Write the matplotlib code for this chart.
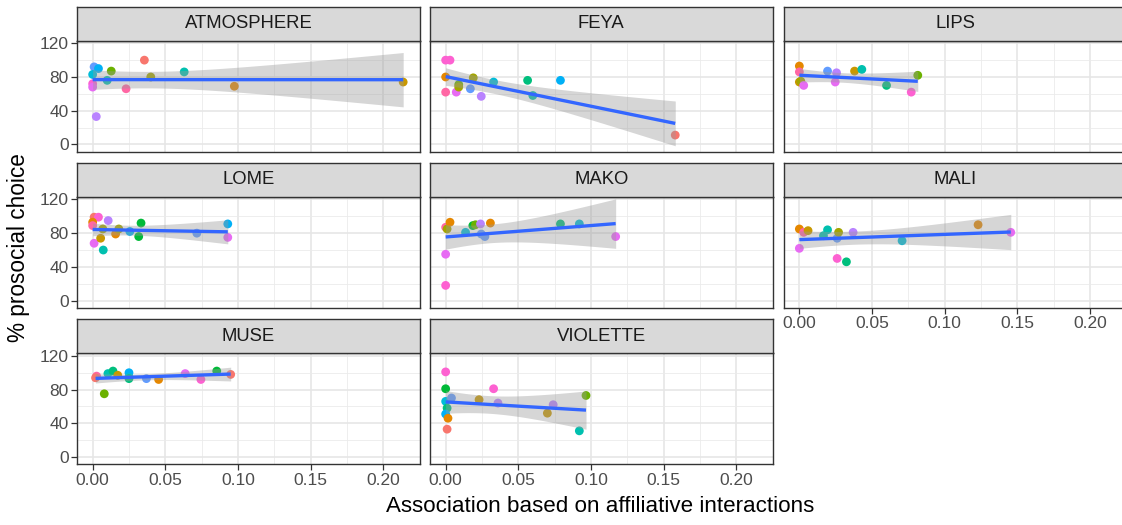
import numpy as np
import matplotlib
matplotlib.use("Agg")
import matplotlib.pyplot as plt

plt.rcParams['font.family'] = ['Liberation Sans', 'DejaVu Sans']

# ggplot hue palette, 15 partners
hue = ["#F8766D", "#E58700", "#C99800", "#A3A500", "#6BB100", "#00BA38", "#00BF7D",
       "#00C0AF", "#00BCD8", "#00B0F6", "#619CFF", "#B983FF", "#E76BF3", "#FD61D1", "#FF67A4"]

panels = ["ATMOSPHERE", "FEYA", "LIPS", "LOME", "MAKO", "MALI", "MUSE", "VIOLETTE"]

atmo_x = [0.001, 0.004, 0.000, 0.000, 0.000, 0.0025, 0.010, 0.0128, 0.023, 0.0356, 0.040, 0.063, 0.0975, 0.2137]
atmo_y = [92, 90, 83, 72, 68, 33, 76, 87, 66, 100, 80, 86, 69, 74]
atmo_c = [10, 9, 8, 13, 12, 11, 7, 4, 14, 0, 3, 7, 1, 2]

feya_x = [0.000, 0.003, 0.000, 0.000, 0.0073, 0.009, 0.009, 0.017, 0.019, 0.0245, 0.033, 0.0564, 0.060, 0.079, 0.158]
feya_y = [100, 100, 80, 62, 62, 71, 68, 66, 79, 57, 74, 76, 58, 76, 11]
feya_c = [13, 13, 1, 14, 12, 4, 3, 10, 3, 11, 8, 6, 7, 9, 0]

lips_x = [0.000, 0.000, 0.000, 0.001, 0.003, 0.0194, 0.0256, 0.0247, 0.038, 0.043, 0.060, 0.077, 0.0815]
lips_y = [93, 86, 74, 75, 70, 87, 85, 74, 87, 89, 70, 62, 82]
lips_c = [1, 14, 2, 3, 12, 10, 11, 12, 2, 7, 6, 13, 4]

lome_x = [0.001, 0.004, 0.000, 0.000, 0.001, 0.0055, 0.0073, 0.007, 0.0107, 0.0158, 0.018, 0.0256,
          0.0333, 0.0317, 0.0717, 0.093, 0.093]
lome_y = [99, 99, 93, 89, 68, 74, 60, 85, 95, 79, 85, 82, 92, 76, 80, 91, 75]
lome_c = [0, 13, 1, 14, 12, 2, 7, 3, 11, 1, 3, 9, 5, 5, 10, 9, 12]

mako_x = [0.000, 0.001, 0.003, 0.000, 0.000, 0.0137, 0.0187, 0.0205, 0.024, 0.0245, 0.027, 0.0308,
          0.079, 0.092, 0.117]
mako_y = [87, 85, 93, 55, 18, 81, 89, 90, 91, 79, 76, 92, 91, 91, 76]
mako_c = [14, 3, 1, 12, 13, 8, 5, 4, 11, 10, 10, 1, 6, 8, 12]

mali_x = [0.000, 0.003, 0.006, 0.000, 0.0166, 0.0194, 0.026, 0.027, 0.026, 0.0324, 0.037, 0.0707,
          0.123, 0.1455]
mali_y = [85, 81, 83, 62, 77, 84, 74, 81, 50, 46, 81, 71, 90, 81]
mali_c = [1, 14, 2, 12, 7, 7, 10, 3, 13, 6, 11, 8, 1, 12]

muse_x = [0.0027, 0.002, 0.008, 0.0105, 0.014, 0.0173, 0.025, 0.025, 0.025, 0.037, 0.0454, 0.0637,
          0.0745, 0.0854, 0.095]
muse_y = [96, 94, 75, 99, 102, 97, 100, 95, 93, 93, 92, 99, 92, 102, 98]
muse_c = [14, 0, 4, 7, 6, 2, 9, 8, 6, 10, 1, 12, 13, 5, 0]

viol_x = [0.000, 0.000, 0.000, 0.001, 0.000, 0.0016, 0.001, 0.004, 0.023, 0.033, 0.036, 0.070,
          0.074, 0.092, 0.0966]
viol_y = [101, 81, 66, 58, 51, 46, 33, 70, 68, 81, 64, 52, 62, 31, 73]
viol_c = [13, 5, 8, 6, 9, 1, 0, 10, 2, 13, 11, 2, 11, 7, 4]

xs = [atmo_x, feya_x, lips_x, lome_x, mako_x, mali_x, muse_x, viol_x]
ys = [atmo_y, feya_y, lips_y, lome_y, mako_y, mali_y, muse_y, viol_y]
cs = [atmo_c, feya_c, lips_c, lome_c, mako_c, mali_c, muse_c, viol_c]


def t975(df):
    # Cornish-Fisher approximation of the t quantile
    z = 1.959964
    return (z + (z**3 + z) / (4 * df) + (5 * z**5 + 16 * z**3 + 3 * z) / (96 * df**2)
            + (3 * z**7 + 19 * z**5 + 17 * z**3 - 15 * z) / (384 * df**3))


def lm_fit(x, y):
    x = np.asarray(x, float)
    y = np.asarray(y, float)
    n = len(x)
    b, a = np.polyfit(x, y, 1)
    res = y - (a + b * x)
    s = np.sqrt(np.sum(res**2) / (n - 2))
    xx = np.linspace(x.min(), x.max(), 80)
    se = s * np.sqrt(1 / n + (xx - x.mean())**2 / np.sum((x - x.mean())**2))
    fit = a + b * xx
    t = t975(n - 2)
    return xx, fit, fit - t * se, fit + t * se


W, H = 1122, 525
fig = plt.figure(figsize=(W / 100, H / 100), dpi=100)

col_left = [77.1, 430.1, 783.8]
panel_w = 342.5
row_top = [40.6, 196.8, 353.2]
panel_h = 111.0
strip_h = 34.0
xlim = (-0.0107, 0.2244)
ylim = (-8.6, 123.2)


def box(l, t, w, h):
    return [l / W, 1 - (t + h) / H, w / W, h / H]


for i, name in enumerate(panels):
    r, c = divmod(i, 3)
    ax = fig.add_axes(box(col_left[c], row_top[r], panel_w, panel_h))
    ax.set_xlim(*xlim)
    ax.set_ylim(*ylim)
    ax.set_xticks([0, 0.05, 0.10, 0.15, 0.20])
    ax.set_xticks([0.025, 0.075, 0.125, 0.175, 0.225], minor=True)
    ax.set_yticks([0, 40, 80, 120])
    ax.set_yticks([20, 60, 100], minor=True)
    ax.grid(which='major', color='#E6E6E6', lw=1.2, zorder=0)
    ax.grid(which='minor', color='#EBEBEB', lw=0.6, zorder=0)
    ax.set_axisbelow(True)
    for sp in ax.spines.values():
        sp.set_color('#333333')
        sp.set_linewidth(1.0)
    ax.tick_params(which='minor', length=0)
    ax.tick_params(which='major', length=4, width=0.9, color='#333333',
                   labelcolor='#4D4D4D', labelsize=12.5, pad=2)

    show_x = (r == 2) or (i == 5)
    show_y = (c == 0)
    if show_x:
        ax.set_xticklabels(['0.00', '0.05', '0.10', '0.15', '0.20'])
    else:
        ax.tick_params(axis='x', length=0, labelbottom=False)
    if show_y:
        ax.set_yticklabels(['0', '40', '80', '120'])
    else:
        ax.tick_params(axis='y', length=0, labelleft=False)

    ax.scatter(xs[i], ys[i], c=[hue[k] for k in cs[i]], s=40, linewidths=0, zorder=2,
               clip_on=False)
    xx, fit, lo, hi = lm_fit(xs[i], ys[i])
    ax.fill_between(xx, lo, hi, color='#999999', alpha=0.4, lw=0, zorder=3)
    ax.plot(xx, fit, color='#3366FF', lw=2.4, zorder=4, solid_capstyle='butt')

    sax = fig.add_axes(box(col_left[c], row_top[r] - strip_h, panel_w, strip_h))
    sax.set_facecolor('#D9D9D9')
    sax.set_xticks([])
    sax.set_yticks([])
    for sp in sax.spines.values():
        sp.set_color('#333333')
        sp.set_linewidth(1.0)
    sax.text(0.5, 0.5, name, ha='center', va='center', fontsize=13.3, color='#1A1A1A',
             transform=sax.transAxes)

fig.text(600 / W, 1 - 506 / H, 'Association based on affiliative interactions',
         ha='center', va='center', fontsize=16.1, color='black')
fig.text(18 / W, 1 - 248 / H, '% prosocial choice', rotation=90,
         ha='center', va='center', fontsize=16.3, color='black')

fig.savefig('out.png', dpi=100)
